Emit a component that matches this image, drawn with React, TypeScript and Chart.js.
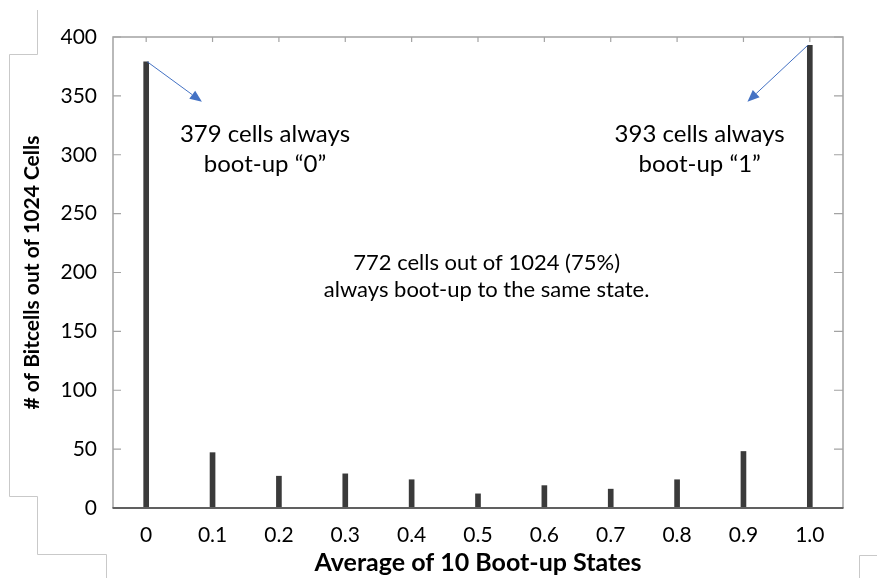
import React, { useEffect, useRef } from "react";
import { Chart, registerables } from "chart.js";

Chart.register(...registerables);

// ---- data ----
const categories = ["0", "0.1", "0.2", "0.3", "0.4", "0.5", "0.6", "0.7", "0.8", "0.9", "1.0"];
const bitcellCounts = [379, 47, 27, 29, 24, 12, 19, 16, 24, 48, 393];
const yMin = 0;
const yMax = 400;
const yStep = 50;

const xTitle = "Average of 10 Boot-up States";
const yTitle = "# of Bitcells out of 1024 Cells";

// annotation texts
const noteZeroLines = ["379 cells always", "boot-up \u201c0\u201d"];
const noteOneLines = ["393 cells always", "boot-up \u201c1\u201d"];
const noteMidLines = ["772 cells out of 1024 (75%)", "always boot-up to the same state."];

const FONT = "Lato, 'Open Sans', sans-serif";

const framePlugin = {
  id: "frameAndNotes",
  beforeDraw(chart: any) {
    const { ctx, width, height } = chart;
    ctx.save();
    ctx.fillStyle = "#ffffff";
    ctx.fillRect(0, 0, width, height);
    // crop artifacts (light gray outline)
    ctx.strokeStyle = "#c9c9c9";
    ctx.lineWidth = 1;
    ctx.beginPath();
    ctx.moveTo(37.5, 10);
    ctx.lineTo(37.5, 54.5);
    ctx.lineTo(9.5, 54.5);
    ctx.lineTo(9.5, 496.5);
    ctx.lineTo(37.5, 496.5);
    ctx.lineTo(37.5, 554.5);
    ctx.lineTo(106.5, 554.5);
    ctx.lineTo(106.5, 578);
    ctx.moveTo(877, 555.5);
    ctx.lineTo(859.5, 555.5);
    ctx.lineTo(859.5, 578);
    ctx.stroke();
    ctx.restore();
  },
  afterDatasetsDraw(chart: any) {
    const { ctx, chartArea, scales } = chart;
    const { left, right, top, bottom } = chartArea;
    const x = scales.x;
    const y = scales.y;
    ctx.save();
    // frame
    ctx.strokeStyle = "#a3a3a3";
    ctx.lineWidth = 1.5;
    ctx.beginPath();
    ctx.moveTo(left, bottom);
    ctx.lineTo(left, top);
    ctx.lineTo(right, top);
    ctx.lineTo(right, bottom);
    ctx.stroke();
    // inward ticks
    ctx.lineWidth = 1.2;
    ctx.beginPath();
    for (let v = yMin; v <= yMax; v += yStep) {
      const py = y.getPixelForValue(v);
      ctx.moveTo(left, py);
      ctx.lineTo(left + 8, py);
      ctx.moveTo(right, py);
      ctx.lineTo(right - 9, py);
    }
    categories.forEach((_, i) => {
      const px = x.getPixelForValue(i);
      ctx.moveTo(px, top);
      ctx.lineTo(px, top + 5);
    });
    ctx.stroke();
    // bottom axis line
    ctx.strokeStyle = "#606060";
    ctx.lineWidth = 2;
    ctx.beginPath();
    ctx.moveTo(left - 0.5, bottom);
    ctx.lineTo(right + 0.5, bottom);
    ctx.stroke();
    ctx.restore();
  },
  afterDraw(chart: any) {
    const { ctx, scales } = chart;
    const x = scales.x;
    const y = scales.y;
    const px = (i: number) => x.getPixelForValue(0) + i * (x.getPixelForValue(1) - x.getPixelForValue(0));
    const py = (v: number) => y.getPixelForValue(v);
    ctx.save();

    const arrow = (x1: number, y1: number, x2: number, y2: number) => {
      ctx.strokeStyle = "#4472C4";
      ctx.fillStyle = "#4472C4";
      ctx.lineWidth = 1;
      const ang = Math.atan2(y2 - y1, x2 - x1);
      const headLen = 12;
      const headW = 5;
      const bx = x2 - headLen * Math.cos(ang);
      const by = y2 - headLen * Math.sin(ang);
      ctx.beginPath();
      ctx.moveTo(x1, y1);
      ctx.lineTo(bx, by);
      ctx.stroke();
      ctx.beginPath();
      ctx.moveTo(x2, y2);
      ctx.lineTo(bx + headW * Math.sin(ang), by - headW * Math.cos(ang));
      ctx.lineTo(bx - headW * Math.sin(ang), by + headW * Math.cos(ang));
      ctx.closePath();
      ctx.fill();
    };
    arrow(px(0) + 1, py(bitcellCounts[0]), px(0.84), py(345));
    arrow(px(10) - 2, py(bitcellCounts[10]), px(9.06), py(345));

    ctx.fillStyle = "#000000";
    ctx.textAlign = "center";
    ctx.textBaseline = "middle";
    ctx.font = `24px ${FONT}`;
    ctx.fillText(noteZeroLines[0], px(1.79), py(317));
    ctx.fillText(noteZeroLines[1], px(1.79), py(292));
    ctx.fillText(noteOneLines[0], px(8.34), py(317));
    ctx.fillText(noteOneLines[1], px(8.34), py(292));
    ctx.font = `22px ${FONT}`;
    ctx.fillText(noteMidLines[0], px(5.13), py(208));
    ctx.fillText(noteMidLines[1], px(5.13), py(185));
    ctx.restore();
  },
};

export default function App() {
  const canvasRef = useRef<HTMLCanvasElement | null>(null);

  useEffect(() => {
    if (!canvasRef.current) return;
    const chart = new Chart(canvasRef.current, {
      type: "bar",
      data: {
        labels: categories,
        datasets: [
          {
            data: bitcellCounts,
            backgroundColor: "#3a3a3a",
            borderWidth: 0,
            barThickness: 5,
          },
        ],
      },
      options: {
        responsive: false,
        animation: false,
        devicePixelRatio: 1,
        layout: { padding: { left: 0, top: 37, right: 34, bottom: 0 } },
        plugins: {
          legend: { display: false },
          tooltip: { enabled: false },
        },
        scales: {
          x: {
            offset: true,
            grid: { display: false, drawTicks: false },
            border: { display: false },
            ticks: {
              autoSkip: false,
              maxRotation: 0,
              padding: 15,
              color: "#000000",
              font: { family: FONT, size: 21 },
            },
            title: {
              display: true,
              text: xTitle,
              color: "#000000",
              font: { family: FONT, size: 25, weight: "bold" },
              padding: { top: 0, bottom: 0 },
            },
            afterFit: (s: any) => {
              s.height = 70;
            },
          },
          y: {
            min: yMin,
            max: yMax,
            grid: { display: false, drawTicks: false },
            border: { display: false },
            ticks: {
              stepSize: yStep,
              padding: 16,
              color: "#000000",
              font: { family: FONT, size: 21 },
            },
            title: {
              display: true,
              text: yTitle,
              color: "#000000",
              font: { family: FONT, size: 21, weight: "bold" },
              padding: { top: 20, bottom: 0 },
            },
            afterFit: (s: any) => {
              s.width = 113;
            },
          },
        },
      },
      plugins: [framePlugin],
    });
    return () => chart.destroy();
  }, []);

  return (
    <div style={{ position: "fixed", left: 0, top: 0, width: 877, height: 578, background: "#fff" }}>
      <canvas ref={canvasRef} width={877} height={578} style={{ width: 877, height: 578, display: "block" }} />
    </div>
  );
}
